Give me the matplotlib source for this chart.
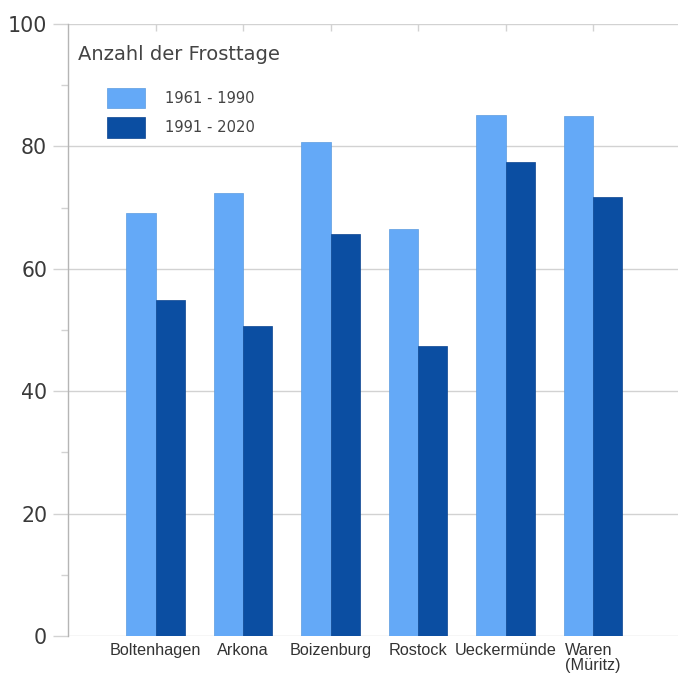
import matplotlib
matplotlib.use("Agg")
import matplotlib.pyplot as plt
import numpy as np
from matplotlib.ticker import MultipleLocator

# Frost days per station, two climate reference periods
stations = ["Boltenhagen", "Arkona", "Boizenburg", "Rostock", "Ueckermünde", "Waren\n(Müritz)"]
period_labels = ["1961 - 1990", "1991 - 2020"]
frost_1961_1990 = [69.1, 72.4, 80.8, 66.5, 85.1, 85.0]
frost_1991_2020 = [54.9, 50.7, 65.7, 47.4, 77.5, 71.7]
y_ticks = [0, 20, 40, 60, 80, 100]
title = "Anzahl der Frosttage"

light_blue = "#64a9f7"
dark_blue = "#0b4ea2"
grid_col = "#d2d2d2"
text_col = "#444444"

fig = plt.figure(figsize=(6.78, 6.75), dpi=100)
ax = fig.add_axes([68 / 678, 39 / 675, 1 - 68 / 678, (636 - 24) / 675])

x = np.arange(len(stations))
w = 0.335
ax.bar(x - w / 2, frost_1961_1990, width=w, color=light_blue, edgecolor="#5b9be0",
       linewidth=0.5, label=period_labels[0], zorder=3)
ax.bar(x + w / 2, frost_1991_2020, width=w, color=dark_blue, edgecolor="#0a4490",
       linewidth=0.5, label=period_labels[1], zorder=3)

ax.set_xlim(-1.0, 5.97)
ax.set_ylim(0, 100)

# y axis: major gridlines, minor ticks at the odd tens
ax.set_yticks(y_ticks)
ax.yaxis.set_minor_locator(MultipleLocator(10))
ax.grid(axis="y", which="major", color=grid_col, linewidth=1.0, zorder=0)
ax.tick_params(axis="y", which="major", length=11, width=1.0, color=grid_col,
               pad=4, labelsize=14.8, labelcolor="#3a3a3a", right=False)
ax.tick_params(axis="y", which="minor", length=5, width=1.0, color=grid_col,
               right=True, left=True)
for t in ax.yaxis.get_minor_ticks():
    t.tick2line.set_markersize(3)

# x axis: category marks at the top, labels below
ax.set_xticks(x)
ax.set_xticklabels(stations, fontfamily="Liberation Sans", fontsize=11.7,
                   color="#333333", linespacing=1.0, multialignment="left",
                   va="top")
ax.tick_params(axis="x", bottom=False, top=True, direction="in", length=5,
               color=grid_col, width=1.0, pad=5)

for s in ["top", "right", "bottom"]:
    ax.spines[s].set_visible(False)
ax.spines["left"].set_color("#b5b5b5")
ax.spines["left"].set_linewidth(1.0)

ax.text(78 / 678, 1 - 55 / 675, title, transform=fig.transFigure,
        fontsize=14, color=text_col, va="center", ha="left")

leg = ax.legend(loc="upper left", bbox_to_anchor=(107 / 678, 1 - 88 / 675),
                bbox_transform=fig.transFigure, frameon=False, fontsize=10.6,
                handlelength=2.6, handleheight=1.75, handletextpad=1.35,
                labelspacing=0.62, borderpad=0, borderaxespad=0)
for txt in leg.get_texts():
    txt.set_color(text_col)

fig.savefig("out.png", dpi=100, facecolor="white")
